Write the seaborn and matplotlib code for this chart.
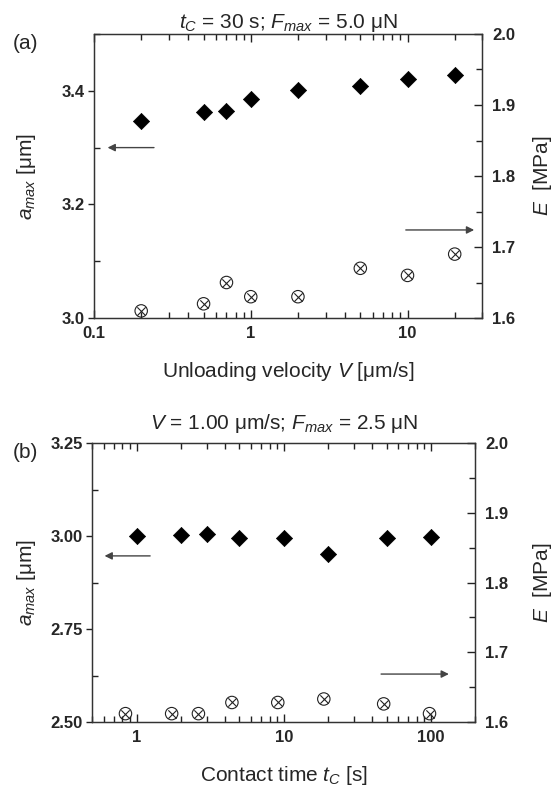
import numpy as np
import pandas as pd
import matplotlib
matplotlib.use("Agg")
import matplotlib.pyplot as plt
import seaborn as sns
from matplotlib.ticker import LogLocator, NullFormatter, MultipleLocator

sns.set_theme(style="ticks")
plt.rcParams["font.family"] = ["Liberation Sans", "DejaVu Sans"]
plt.rcParams["mathtext.fontset"] = "custom"
plt.rcParams["mathtext.rm"] = "Liberation Sans"
plt.rcParams["mathtext.it"] = "Liberation Sans:italic"
plt.rcParams["mathtext.bf"] = "Liberation Sans:bold"

# ---------------- data: panel (a) ----------------
velocity = [0.2, 0.5, 0.7, 1, 2, 5, 10, 20]
a_max_a = [3.346, 3.362, 3.365, 3.385, 3.401, 3.409, 3.420, 3.427]
E_a = [1.610, 1.620, 1.650, 1.630, 1.630, 1.670, 1.660, 1.690]

# ---------------- data: panel (b) ----------------
contact_time_a = [1, 2, 3, 5, 10, 20, 50, 100]
a_max_b = [3.000, 3.002, 3.005, 2.996, 2.995, 2.951, 2.995, 2.999]
contact_time_E = [0.84, 1.73, 2.63, 4.44, 9.1, 18.7, 47.7, 97.7]
E_b = [1.612, 1.612, 1.612, 1.628, 1.628, 1.633, 1.626, 1.612]

xticks_a = [0.1, 1, 10]
xticklabels_a = ["0.1", "1", "10"]
yticks_a = [3.0, 3.2, 3.4]
yticklabels_a = ["3.0", "3.2", "3.4"]
xticks_b = [1, 10, 100]
xticklabels_b = ["1", "10", "100"]
yticks_b = [2.50, 2.75, 3.00, 3.25]
yticklabels_b = ["2.50", "2.75", "3.00", "3.25"]
eticks = [1.6, 1.7, 1.8, 1.9, 2.0]
eticklabels = ["1.6", "1.7", "1.8", "1.9", "2.0"]

W, H = 559, 790
fig = plt.figure(figsize=(W / 100, H / 100), dpi=100)
fig.patch.set_facecolor("white")

def px_axes(l, t, r, b):
    return fig.add_axes([l / W, 1 - b / H, (r - l) / W, (b - t) / H])

ax_a = px_axes(94, 34, 482.3, 318)
ax_b = px_axes(92.3, 443.3, 475.3, 722)

SP = "#222222"
TICK_FS = 12
LAB_FS = 15


def draw_panel(ax, xa, ya, xe, ye, xlim, ylim, yminor, xt, xtl, yt, ytl,
               xlabel, title, title_pad, xlab_y, arrows):
    ax.set_xscale("log")
    sns.scatterplot(x=xa, y=ya, ax=ax, marker="D", s=68, color="black",
                    edgecolor="black", linewidth=0.5, zorder=3)
    ax.set_xlim(*xlim)
    ax.set_ylim(*ylim)
    ax2 = ax.twinx()
    sns.scatterplot(x=xe, y=ye, ax=ax2, marker="o", s=80,
                    facecolors="none", edgecolors="#222222", linewidth=0.8, zorder=3)
    sns.scatterplot(x=xe, y=ye, ax=ax2, marker="x", s=36,
                    color="#222222", linewidth=0.8, zorder=3)
    ax2.set_ylim(1.6, 2.0)
    ax2.set_xlim(*xlim)
    ax2.xaxis.set_visible(False)

    ax.set_yticks(yt, labels=ytl, fontweight="bold", fontsize=TICK_FS)
    ax.yaxis.set_minor_locator(MultipleLocator(yminor))
    ax2.set_yticks(eticks, labels=eticklabels, fontweight="bold", fontsize=TICK_FS)
    ax2.yaxis.set_minor_locator(MultipleLocator(0.05))

    ax.tick_params(axis="y", which="major", direction="out", length=4, width=1.0,
                   color=SP, pad=3, left=True, right=False)
    ax.tick_params(axis="y", which="minor", direction="in", length=4, width=1.0,
                   color=SP, left=True, right=False)
    ax2.tick_params(axis="y", which="major", direction="in", length=6, width=1.0,
                    color=SP, pad=7)
    ax2.tick_params(axis="y", which="minor", direction="in", length=4, width=1.0,
                    color=SP)
    for a in (ax, ax2):
        for s in a.spines.values():
            s.set_color("#333333")
            s.set_linewidth(0.9)

    ax.set_xlabel(xlabel, fontsize=LAB_FS)
    ax.xaxis.set_label_coords(0.5, xlab_y)
    ax.set_ylabel(r"$a_{max}$ [μm]", fontsize=LAB_FS)
    ax2.set_ylabel(r"$E$  [MPa]", fontsize=LAB_FS)
    ax.set_title(title, fontsize=LAB_FS, pad=title_pad)

    for (x0, x1, y) in arrows:
        ax.annotate("", xy=(x1, y), xytext=(x0, y), xycoords="axes fraction",
                    textcoords="axes fraction",
                    arrowprops=dict(arrowstyle="-|>", color="#444444", lw=1.0,
                                    mutation_scale=11, shrinkA=0, shrinkB=0))

    ax.set_xticks(xt, labels=xtl, fontweight="bold", fontsize=TICK_FS)
    ax.xaxis.set_minor_locator(LogLocator(base=10, subs=np.arange(2, 10), numticks=20))
    ax.xaxis.set_minor_formatter(NullFormatter())
    ax.tick_params(axis="x", which="both", direction="in", top=True, bottom=True,
                   color=SP, width=1.0, pad=6)
    ax.tick_params(axis="x", which="major", length=6)
    ax.tick_params(axis="x", which="minor", length=4)
    ax.set_xlim(*xlim)
    return ax2


ax2_a = draw_panel(ax_a, velocity, a_max_a, velocity, E_a, (0.1, 30), (3.0, 3.5), 0.1,
                   xticks_a, xticklabels_a, yticks_a, yticklabels_a,
                   r"Unloading velocity $V$ [μm/s]",
                   r"$t_C$ = 30 s; $F_{max}$ = 5.0 μN", 4.6, -0.148,
                   [(0.1545, 0.035, 0.600), (0.803, 0.979, 0.310)])
ax2_b = draw_panel(ax_b, contact_time_a, a_max_b, contact_time_E, E_b, (0.5, 200), (2.5, 3.25), 0.125,
                   xticks_b, xticklabels_b, yticks_b, yticklabels_b,
                   r"Contact time $t_C$ [s]",
                   r"$V$ = 1.00 μm/s; $F_{max}$ = 2.5 μN", 10, -0.151,
                   [(0.151, 0.032, 0.596), (0.754, 0.931, 0.172)])

ax_a.yaxis.set_label_coords(-0.144, 0.5)
ax_b.yaxis.set_label_coords(-0.142, 0.5)
ax2_a.yaxis.set_label_coords(1.125, 0.5)
ax2_b.yaxis.set_label_coords(1.145, 0.5)

fig.text(13 / W, 1 - 49 / H, "(a)", fontsize=LAB_FS, va="baseline", ha="left")
fig.text(13 / W, 1 - 458 / H, "(b)", fontsize=LAB_FS, va="baseline", ha="left")

fig.savefig("out.png", dpi=100, facecolor="white")
